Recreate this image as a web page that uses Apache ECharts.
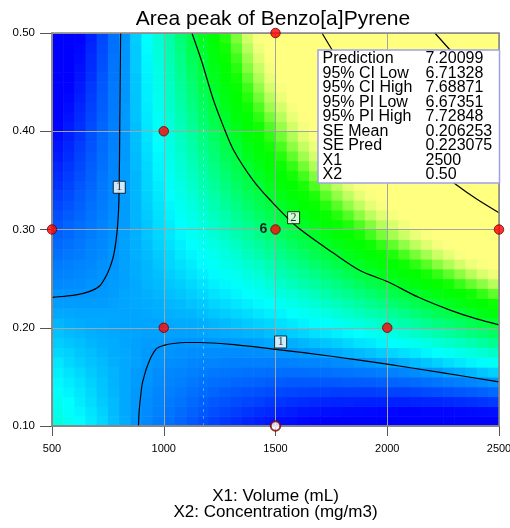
<!DOCTYPE html>
<html>
<head>
<meta charset="utf-8">
<script src="https://cdn.jsdelivr.net/npm/echarts@6/dist/echarts.min.js"></script>
<style>
  html, body { margin: 0; padding: 0; background: #fff; }
  #chart { width: 510px; height: 528px; }
</style>
</head>
<body>
<div id="chart"></div>
<script>
// response grid: cell centres on X1 (mL) and X2 (mg/m3)
const x1Cells = [525, 575, 625, 675, 725, 775, 825, 875, 925, 975, 1025, 1075, 1125, 1175, 1225, 1275, 1325, 1375, 1425, 1475,
  1525, 1575, 1625, 1675, 1725, 1775, 1825, 1875, 1925, 1975, 2025, 2075, 2125, 2175, 2225, 2275, 2325, 2375, 2425, 2475];
const x2Cells = [0.105, 0.115, 0.125, 0.135, 0.145, 0.155, 0.165, 0.175, 0.185, 0.195, 0.205, 0.215, 0.225, 0.235, 0.245,
  0.255, 0.265, 0.275, 0.285, 0.295, 0.305, 0.315, 0.325, 0.335, 0.345, 0.355, 0.365, 0.375, 0.385, 0.395, 0.405, 0.415,
  0.425, 0.435, 0.445, 0.455, 0.465, 0.475, 0.485, 0.495];
const cellW = 50;
const cellH = 0.01;

const areaCols = [
  [1.42,1.38,1.35,1.32,1.28,1.25,1.22,1.18,1.15,1.12,1.09,1.05,1.02,0.99,0.95,0.92,0.89,0.85,0.82,0.79,0.75,0.72,0.69,0.66,0.62,0.59,0.56,0.52,0.49,0.46,0.42,0.39,0.36,0.32,0.29,0.26,0.23,0.19,0.16,0.13],
  [1.35,1.32,1.30,1.27,1.24,1.21,1.18,1.16,1.13,1.10,1.07,1.05,1.02,0.99,0.96,0.93,0.91,0.88,0.85,0.82,0.80,0.77,0.74,0.71,0.68,0.66,0.63,0.60,0.57,0.54,0.52,0.49,0.46,0.43,0.41,0.38,0.35,0.32,0.29,0.27],
  [1.29,1.27,1.24,1.22,1.20,1.18,1.15,1.13,1.11,1.09,1.06,1.04,1.02,1.00,0.97,0.95,0.93,0.90,0.88,0.86,0.84,0.81,0.79,0.77,0.75,0.72,0.70,0.68,0.66,0.63,0.61,0.59,0.57,0.54,0.52,0.50,0.48,0.45,0.43,0.41],
  [1.23,1.21,1.19,1.18,1.16,1.14,1.12,1.11,1.09,1.07,1.05,1.04,1.02,1.00,0.99,0.97,0.95,0.93,0.92,0.90,0.88,0.86,0.85,0.83,0.81,0.79,0.78,0.76,0.74,0.73,0.71,0.69,0.67,0.66,0.64,0.62,0.60,0.59,0.57,0.55],
  [1.17,1.16,1.14,1.13,1.12,1.11,1.10,1.08,1.07,1.06,1.05,1.04,1.02,1.01,1.00,0.99,0.98,0.96,0.95,0.94,0.93,0.91,0.90,0.89,0.88,0.87,0.85,0.84,0.83,0.82,0.81,0.79,0.78,0.77,0.76,0.75,0.73,0.72,0.71,0.70],
  [1.11,1.10,1.10,1.09,1.08,1.08,1.07,1.06,1.06,1.05,1.04,1.04,1.03,1.02,1.02,1.01,1.00,1.00,0.99,0.98,0.98,0.97,0.96,0.95,0.95,0.94,0.93,0.93,0.92,0.91,0.91,0.90,0.89,0.89,0.88,0.87,0.87,0.86,0.85,0.85],
  [1.06,1.05,1.05,1.05,1.05,1.05,1.05,1.05,1.04,1.04,1.04,1.04,1.04,1.04,1.03,1.03,1.03,1.03,1.03,1.03,1.02,1.02,1.02,1.02,1.02,1.02,1.02,1.01,1.01,1.01,1.01,1.01,1.01,1.00,1.00,1.00,1.00,1.00,1.00,0.99],
  [1.00,1.01,1.01,1.01,1.02,1.02,1.03,1.03,1.03,1.04,1.04,1.04,1.05,1.05,1.05,1.06,1.06,1.07,1.07,1.07,1.08,1.08,1.08,1.09,1.09,1.09,1.10,1.10,1.11,1.11,1.11,1.12,1.12,1.12,1.13,1.13,1.14,1.14,1.14,1.15],
  [0.95,0.96,0.97,0.98,0.99,1.00,1.01,1.01,1.02,1.03,1.04,1.05,1.06,1.07,1.08,1.09,1.09,1.10,1.11,1.12,1.13,1.14,1.15,1.16,1.17,1.17,1.18,1.19,1.20,1.21,1.22,1.23,1.24,1.25,1.25,1.26,1.27,1.28,1.29,1.30],
  [0.90,0.92,0.93,0.94,0.96,0.97,0.99,1.00,1.02,1.03,1.04,1.06,1.07,1.09,1.10,1.11,1.13,1.14,1.16,1.17,1.19,1.20,1.21,1.23,1.24,1.26,1.27,1.28,1.30,1.31,1.33,1.34,1.36,1.37,1.38,1.40,1.41,1.43,1.44,1.45],
  [0.85,0.87,0.89,0.91,0.93,0.95,0.97,0.99,1.01,1.03,1.05,1.07,1.09,1.11,1.13,1.15,1.17,1.18,1.20,1.22,1.24,1.26,1.28,1.30,1.32,1.34,1.36,1.38,1.40,1.42,1.44,1.46,1.48,1.50,1.51,1.53,1.55,1.57,1.59,1.61],
  [0.81,0.83,0.86,0.88,0.91,0.93,0.96,0.98,1.00,1.03,1.06,1.08,1.10,1.13,1.15,1.18,1.20,1.23,1.25,1.28,1.30,1.33,1.35,1.38,1.40,1.43,1.45,1.47,1.50,1.52,1.55,1.57,1.60,1.62,1.65,1.67,1.70,1.72,1.75,1.77],
  [0.76,0.79,0.82,0.85,0.88,0.91,0.94,0.97,1.00,1.03,1.06,1.09,1.12,1.15,1.18,1.21,1.24,1.27,1.30,1.33,1.36,1.39,1.42,1.45,1.48,1.51,1.54,1.57,1.60,1.63,1.66,1.69,1.72,1.75,1.78,1.81,1.84,1.87,1.90,1.93],
  [0.72,0.76,0.79,0.83,0.86,0.90,0.93,0.97,1.00,1.04,1.07,1.11,1.14,1.18,1.21,1.25,1.29,1.32,1.36,1.39,1.43,1.46,1.50,1.53,1.57,1.60,1.64,1.67,1.71,1.74,1.78,1.81,1.85,1.88,1.92,1.95,1.99,2.02,2.06,2.09],
  [0.68,0.72,0.76,0.80,0.84,0.88,0.93,0.97,1.01,1.05,1.09,1.13,1.17,1.21,1.25,1.29,1.33,1.37,1.41,1.45,1.49,1.53,1.57,1.61,1.65,1.69,1.73,1.77,1.81,1.85,1.90,1.94,1.98,2.02,2.06,2.10,2.14,2.18,2.22,2.26],
  [0.64,0.69,0.74,0.78,0.83,0.87,0.92,0.96,1.01,1.06,1.10,1.15,1.19,1.24,1.28,1.33,1.38,1.42,1.47,1.51,1.56,1.60,1.65,1.70,1.74,1.79,1.83,1.88,1.92,1.97,2.02,2.06,2.11,2.15,2.20,2.24,2.29,2.34,2.38,2.43],
  [0.61,0.66,0.71,0.76,0.81,0.86,0.91,0.96,1.02,1.07,1.12,1.17,1.22,1.27,1.32,1.37,1.42,1.47,1.52,1.58,1.63,1.68,1.73,1.78,1.83,1.88,1.93,1.98,2.03,2.08,2.14,2.19,2.24,2.29,2.34,2.39,2.44,2.49,2.54,2.59],
  [0.57,0.63,0.69,0.74,0.80,0.85,0.91,0.97,1.02,1.08,1.14,1.19,1.25,1.30,1.36,1.42,1.47,1.53,1.59,1.64,1.70,1.75,1.81,1.87,1.92,1.98,2.03,2.09,2.15,2.20,2.26,2.32,2.37,2.43,2.48,2.54,2.60,2.65,2.71,2.77],
  [0.54,0.60,0.67,0.73,0.79,0.85,0.91,0.97,1.03,1.09,1.16,1.22,1.28,1.34,1.40,1.46,1.52,1.59,1.65,1.71,1.77,1.83,1.89,1.95,2.02,2.08,2.14,2.20,2.26,2.32,2.38,2.45,2.51,2.57,2.63,2.69,2.75,2.81,2.88,2.94],
  [0.51,0.58,0.64,0.71,0.78,0.84,0.91,0.98,1.05,1.11,1.18,1.25,1.31,1.38,1.45,1.51,1.58,1.65,1.71,1.78,1.84,1.91,1.98,2.05,2.11,2.18,2.25,2.31,2.38,2.45,2.51,2.58,2.65,2.71,2.78,2.85,2.91,2.98,3.05,3.11],
  [0.48,0.55,0.63,0.70,0.77,0.84,0.91,0.99,1.06,1.13,1.20,1.27,1.35,1.42,1.49,1.56,1.63,1.71,1.78,1.85,1.92,1.99,2.07,2.14,2.21,2.28,2.35,2.43,2.50,2.57,2.64,2.71,2.78,2.86,2.93,3.00,3.07,3.14,3.22,3.29],
  [0.46,0.53,0.61,0.69,0.76,0.84,0.92,1.00,1.07,1.15,1.23,1.31,1.38,1.46,1.54,1.61,1.69,1.77,1.85,1.92,2.00,2.08,2.15,2.23,2.31,2.39,2.46,2.54,2.62,2.69,2.77,2.85,2.93,3.00,3.08,3.16,3.23,3.31,3.39,3.47],
  [0.43,0.51,0.60,0.68,0.76,0.84,0.93,1.01,1.09,1.17,1.26,1.34,1.42,1.50,1.59,1.67,1.75,1.83,1.92,2.00,2.08,2.16,2.25,2.33,2.41,2.49,2.57,2.66,2.74,2.82,2.90,2.99,3.07,3.15,3.23,3.32,3.40,3.48,3.56,3.65],
  [0.41,0.50,0.58,0.67,0.76,0.85,0.93,1.02,1.11,1.20,1.29,1.37,1.46,1.55,1.64,1.72,1.81,1.90,1.99,2.07,2.16,2.25,2.34,2.42,2.51,2.60,2.69,2.78,2.86,2.95,3.04,3.13,3.21,3.30,3.39,3.48,3.56,3.65,3.74,3.83],
  [0.39,0.48,0.57,0.67,0.76,0.85,0.94,1.04,1.13,1.22,1.32,1.41,1.50,1.60,1.69,1.78,1.87,1.97,2.06,2.15,2.25,2.34,2.43,2.53,2.62,2.71,2.80,2.90,2.99,3.08,3.18,3.27,3.36,3.45,3.55,3.64,3.73,3.83,3.92,4.01],
  [0.37,0.47,0.56,0.66,0.76,0.86,0.96,1.06,1.15,1.25,1.35,1.45,1.55,1.65,1.74,1.84,1.94,2.04,2.14,2.23,2.33,2.43,2.53,2.63,2.72,2.82,2.92,3.02,3.12,3.22,3.31,3.41,3.51,3.61,3.71,3.80,3.90,4.00,4.10,4.20],
  [0.35,0.45,0.56,0.66,0.77,0.87,0.97,1.08,1.18,1.28,1.39,1.49,1.59,1.70,1.80,1.90,2.01,2.11,2.21,2.32,2.42,2.52,2.63,2.73,2.83,2.94,3.04,3.14,3.25,3.35,3.45,3.56,3.66,3.76,3.87,3.97,4.08,4.18,4.28,4.39],
  [0.34,0.45,0.55,0.66,0.77,0.88,0.99,1.10,1.21,1.31,1.42,1.53,1.64,1.75,1.86,1.97,2.07,2.18,2.29,2.40,2.51,2.62,2.73,2.84,2.94,3.05,3.16,3.27,3.38,3.49,3.60,3.70,3.81,3.92,4.03,4.14,4.25,4.36,4.47,4.57],
  [0.32,0.44,0.55,0.66,0.78,0.89,1.01,1.12,1.23,1.35,1.46,1.58,1.69,1.80,1.92,2.03,2.15,2.26,2.37,2.49,2.60,2.72,2.83,2.94,3.06,3.17,3.28,3.40,3.51,3.63,3.74,3.85,3.97,4.08,4.20,4.31,4.42,4.54,4.65,4.77],
  [0.31,0.43,0.55,0.67,0.79,0.91,1.03,1.15,1.27,1.38,1.50,1.62,1.74,1.86,1.98,2.10,2.22,2.34,2.46,2.58,2.70,2.81,2.93,3.05,3.17,3.29,3.41,3.53,3.65,3.77,3.89,4.01,4.13,4.24,4.36,4.48,4.60,4.72,4.84,4.96],
  [0.30,0.43,0.55,0.68,0.80,0.92,1.05,1.17,1.30,1.42,1.55,1.67,1.80,1.92,2.04,2.17,2.29,2.42,2.54,2.67,2.79,2.92,3.04,3.16,3.29,3.41,3.54,3.66,3.79,3.91,4.04,4.16,4.28,4.41,4.53,4.66,4.78,4.91,5.03,5.15],
  [0.29,0.42,0.55,0.68,0.81,0.94,1.07,1.20,1.33,1.46,1.59,1.72,1.85,1.98,2.11,2.24,2.37,2.50,2.63,2.76,2.89,3.02,3.15,3.28,3.41,3.54,3.67,3.80,3.93,4.06,4.18,4.31,4.44,4.57,4.70,4.83,4.96,5.09,5.22,5.35],
  [0.29,0.42,0.56,0.69,0.83,0.96,1.10,1.23,1.37,1.50,1.64,1.77,1.91,2.04,2.18,2.31,2.45,2.58,2.72,2.85,2.99,3.12,3.26,3.39,3.53,3.66,3.80,3.93,4.07,4.20,4.34,4.47,4.61,4.74,4.88,5.01,5.15,5.28,5.42,5.55],
  [0.29,0.43,0.57,0.71,0.85,0.99,1.13,1.27,1.41,1.55,1.69,1.83,1.97,2.11,2.25,2.39,2.53,2.67,2.81,2.95,3.09,3.23,3.37,3.51,3.65,3.79,3.93,4.07,4.21,4.35,4.49,4.63,4.77,4.91,5.05,5.19,5.33,5.47,5.61,5.75],
  [0.28,0.43,0.57,0.72,0.87,1.01,1.16,1.30,1.45,1.59,1.74,1.88,2.03,2.17,2.32,2.46,2.61,2.76,2.90,3.05,3.19,3.34,3.48,3.63,3.77,3.92,4.06,4.21,4.35,4.50,4.65,4.79,4.94,5.08,5.23,5.37,5.52,5.66,5.81,5.95],
  [0.28,0.43,0.58,0.74,0.89,1.04,1.19,1.34,1.49,1.64,1.79,1.94,2.09,2.24,2.39,2.54,2.69,2.84,2.99,3.15,3.30,3.45,3.60,3.75,3.90,4.05,4.20,4.35,4.50,4.65,4.80,4.95,5.10,5.26,5.41,5.56,5.71,5.86,6.01,6.16],
  [0.29,0.44,0.60,0.75,0.91,1.06,1.22,1.38,1.53,1.69,1.84,2.00,2.16,2.31,2.47,2.62,2.78,2.94,3.09,3.25,3.40,3.56,3.72,3.87,4.03,4.18,4.34,4.50,4.65,4.81,4.96,5.12,5.28,5.43,5.59,5.74,5.90,6.05,6.21,6.37],
  [0.29,0.45,0.61,0.77,0.93,1.09,1.26,1.42,1.58,1.74,1.90,2.06,2.22,2.38,2.55,2.71,2.87,3.03,3.19,3.35,3.51,3.67,3.83,4.00,4.16,4.32,4.48,4.64,4.80,4.96,5.12,5.29,5.45,5.61,5.77,5.93,6.09,6.25,6.41,6.58],
  [0.29,0.46,0.63,0.79,0.96,1.13,1.29,1.46,1.63,1.79,1.96,2.13,2.29,2.46,2.62,2.79,2.96,3.12,3.29,3.46,3.62,3.79,3.96,4.12,4.29,4.46,4.62,4.79,4.95,5.12,5.29,5.45,5.62,5.79,5.95,6.12,6.29,6.45,6.62,6.79],
  [0.30,0.47,0.65,0.82,0.99,1.16,1.33,1.50,1.68,1.85,2.02,2.19,2.36,2.54,2.71,2.88,3.05,3.22,3.39,3.56,3.74,3.91,4.08,4.25,4.42,4.59,4.77,4.94,5.11,5.28,5.45,5.62,5.80,5.97,6.14,6.31,6.48,6.65,6.83,7.00]
];

// contour lines [x1, x2]
const contour1Upper = [[807, 0.50], [805, 0.45], [803, 0.40], [801, 0.35], [798, 0.32], [792, 0.30], [783, 0.283], [774, 0.272],
  [760, 0.262], [745, 0.254], [715, 0.243], [680, 0.238], [640, 0.235], [594, 0.233], [550, 0.232], [500, 0.231]];
const contour1Lower = [[887, 0.10], [890, 0.115], [895, 0.127], [903, 0.142], [914, 0.152], [925, 0.160], [945, 0.171], [969, 0.179],
  [1000, 0.182], [1043, 0.184], [1100, 0.185], [1163, 0.185], [1300, 0.183], [1500, 0.178], [1750, 0.171], [2000, 0.163],
  [2250, 0.154], [2500, 0.145]];
const contour2 = [[1126, 0.50], [1170, 0.471], [1222, 0.432], [1265, 0.406], [1312, 0.381], [1400, 0.350], [1476, 0.330],
  [1595, 0.303], [1759, 0.276], [1880, 0.258], [2000, 0.247], [2140, 0.231], [2281, 0.218], [2400, 0.209], [2500, 0.203]];
const contour4 = [[1708, 0.50], [1800, 0.466], [1900, 0.435], [2000, 0.408], [2100, 0.385], [2200, 0.365], [2312, 0.345],
  [2400, 0.331], [2500, 0.317]];
const contour6 = [[2213, 0.50], [2300, 0.478], [2400, 0.454], [2500, 0.432]];
const contourLabels = [[801, 0.343, '1'], [1581, 0.312, '2'], [1523, 0.1855, '1']];

// design points
const designPoints = [[500, 0.3], [1000, 0.4], [1000, 0.2], [1500, 0.5], [2000, 0.2], [2500, 0.3]];
const centrePoint = [[1500, 0.3, 6]];
const openPoint = [[1500, 0.1]];
const faintLineX = 1177;

const predLabels = ['Prediction', '95% CI Low', '95% CI High', '95% PI Low', '95% PI High', 'SE Mean', 'SE Pred', 'X1', 'X2'];
const predValues = ['7.20099', '6.71328', '7.68871', '6.67351', '7.72848', '0.206253', '0.223075', '2500', '0.50'];

const cells = [];
areaCols.forEach(function (col, c) {
  col.forEach(function (v, r) {
    cells.push([x1Cells[c], x2Cells[r], v]);
  });
});

const sansFont = "'Liberation Sans', Arial, sans-serif";

function contourSeries(data) {
  return {
    type: 'line',
    data: data,
    smooth: 0.3,
    showSymbol: false,
    silent: true,
    z: 6,
    lineStyle: { color: '#000', width: 1.2 }
  };
}

const chart = echarts.init(document.getElementById('chart'));
chart.setOption({
  animation: false,
  grid: {
    left: 52, right: 11, top: 33, bottom: 102,
    outerBoundsMode: 'none',
    containLabel: false,
    show: true, z: 8, borderColor: '#868686', borderWidth: 1.5, backgroundColor: 'transparent'
  },
  visualMap: {
    type: 'continuous',
    show: false,
    seriesIndex: 0,
    dimension: 2,
    min: 0.4,
    max: 3.0,
    inRange: {
      color: ['#0000ff', '#0014ff', '#002dff', '#0048ff', '#0064ff', '#007dff', '#0096ff', '#00bbff', '#00e1ff', '#00ffff',
        '#00ffe6', '#00ffc8', '#00ffaa', '#00ff8c', '#00ff6e', '#00ff50', '#00ff3c', '#00ff1e', '#00ff0a', '#00ff00',
        '#14ff05', '#46ff1e', '#82ff3c', '#b4ff5a', '#dcff6e', '#f5ff7d', '#ffff80']
    }
  },
  xAxis: {
    type: 'value',
    min: 500,
    max: 2500,
    interval: 500,
    z: 5,
    name: 'X1: Volume (mL)\nX2: Concentration (mg/m3)',
    nameLocation: 'middle',
    nameGap: 62,
    nameTextStyle: { fontFamily: sansFont, fontSize: 17, lineHeight: 16, color: '#000' },
    axisLine: { show: true, lineStyle: { color: '#868686', width: 1.5 } },
    axisTick: { show: true, length: 10, lineStyle: { color: '#555' } },
    axisLabel: {
      margin: 17, fontFamily: sansFont, fontSize: 11, color: '#000', showMaxLabel: true,
      formatter: function (v) { return String(v); }
    },
    splitLine: { show: true, lineStyle: { color: '#a4a4a4', width: 1 } }
  },
  yAxis: {
    type: 'value',
    min: 0.1,
    max: 0.5,
    interval: 0.1,
    z: 5,
    axisLine: { show: true, lineStyle: { color: '#868686', width: 1.5 } },
    axisTick: { show: true, length: 12, lineStyle: { color: '#555' } },
    axisLabel: {
      margin: 17, fontFamily: sansFont, fontSize: 11.5, color: '#000',
      formatter: function (v) { return v.toFixed(2); }
    },
    splitLine: { show: true, lineStyle: { color: '#a4a4a4', width: 1 } }
  },
  series: [
    {
      type: 'custom',
      data: cells,
      clip: true,
      silent: true,
      z: 1,
      renderItem: function (params, api) {
        const x = api.value(0);
        const y = api.value(1);
        const p0 = api.coord([x - cellW / 2, y + cellH / 2]);
        const p1 = api.coord([x + cellW / 2, y - cellH / 2]);
        return {
          type: 'rect',
          shape: { x: p0[0], y: p0[1], width: p1[0] - p0[0] + 0.6, height: p1[1] - p0[1] + 0.6 },
          style: { fill: api.visual('color') }
        };
      },
      markLine: {
        silent: true,
        symbol: 'none',
        label: { show: false },
        lineStyle: { color: 'rgba(255,255,255,0.35)', type: [3, 4], width: 1 },
        data: [{ xAxis: faintLineX }]
      }
    },
    contourSeries(contour1Upper),
    contourSeries(contour1Lower),
    contourSeries(contour2),
    contourSeries(contour4),
    contourSeries(contour6),
    {
      type: 'scatter',
      data: contourLabels,
      symbol: 'rect',
      symbolSize: 12,
      silent: true,
      z: 7,
      itemStyle: { color: '#fff', borderColor: '#000', borderWidth: 1 },
      label: {
        show: true,
        position: 'inside',
        formatter: function (p) { return p.value[2]; },
        fontFamily: "'Liberation Serif', 'DejaVu Serif', serif",
        fontSize: 12,
        color: '#000'
      }
    },
    {
      type: 'scatter',
      data: designPoints,
      symbolSize: 9.5,
      silent: true,
      z: 9,
      itemStyle: { color: '#ff0000', borderColor: '#6a0000', borderWidth: 1 }
    },
    {
      type: 'scatter',
      data: centrePoint,
      symbolSize: 9.5,
      silent: true,
      z: 9,
      itemStyle: { color: '#ff0000', borderColor: '#6a0000', borderWidth: 1 },
      label: {
        show: true,
        position: 'left',
        distance: 3,
        formatter: function (p) { return String(p.value[2]); },
        fontFamily: sansFont,
        fontSize: 14,
        fontWeight: 'bold',
        color: '#000'
      }
    },
    {
      type: 'scatter',
      data: openPoint,
      symbolSize: 9.5,
      silent: true,
      z: 9,
      itemStyle: { color: '#ffffff', borderColor: '#7a0000', borderWidth: 2 }
    }
  ],
  graphic: [
    {
      type: 'text',
      z: 20,
      x: 273,
      y: 19,
      style: {
        text: 'Area peak of Benzo[a]Pyrene',
        fontFamily: sansFont,
        fontSize: 21,
        fill: '#000',
        textAlign: 'center',
        textVerticalAlign: 'middle'
      }
    },
    {
      type: 'rect',
      z: 20,
      shape: { x: 318, y: 50, width: 181.5, height: 133 },
      style: { fill: '#fff', stroke: '#a0a0e8', lineWidth: 1.5 }
    },
    {
      type: 'text',
      z: 21,
      x: 322.5,
      y: 51.5,
      style: {
        text: predLabels.join('\n'),
        fontFamily: sansFont,
        fontSize: 16,
        lineHeight: 14.5,
        fill: '#000',
        textVerticalAlign: 'top'
      }
    },
    {
      type: 'text',
      z: 21,
      x: 425.5,
      y: 51.5,
      style: {
        text: predValues.join('\n'),
        fontFamily: sansFont,
        fontSize: 16,
        lineHeight: 14.5,
        fill: '#000',
        textVerticalAlign: 'top'
      }
    }
  ]
});
</script>
</body>
</html>
